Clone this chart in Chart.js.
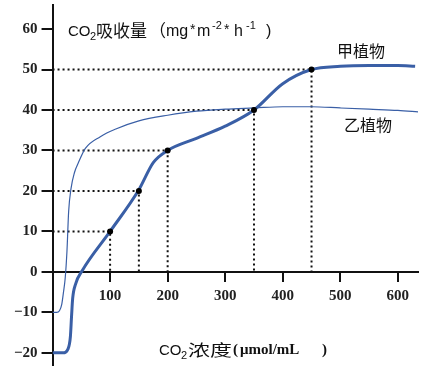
<!DOCTYPE html>
<html>
<head>
  <meta charset="utf-8">
  <title>CO2 吸收量</title>
  <script src="https://cdn.jsdelivr.net/npm/chart.js"></script>
  <style>
    html, body { margin: 0; padding: 0; background: #fff; }
    #wrap { width: 425px; height: 370px; }
  </style>
</head>
<body>
  <div id="wrap"><canvas id="chart"></canvas></div>
  <script>
    // 甲植物 (thick curve)
    const jiaX = [0, 18, 27, 31, 33, 35, 40, 52, 100, 150, 175, 200, 250, 300, 350, 400, 450, 500, 550, 600, 630];
    const jiaY = [-20, -20, -19, -16, -11, -6.5, -3, 0.4, 10, 20.3, 27, 30, 33, 36, 40, 46.5, 50, 50.8, 51, 51, 50.8];
    // 乙植物 (thin curve)
    const yiX = [0, 7, 12, 16, 19, 22, 25, 28, 32, 38, 45, 57, 83, 110, 150, 200, 250, 300, 350, 400, 450, 500, 550, 600, 637];
    const yiY = [-10, -10, -9.6, -8, -5, -1.5, 5, 15, 20.5, 24.5, 27, 30.5, 33.4, 35.3, 37.3, 38.7, 39.7, 40.2, 40.5, 40.8, 40.8, 40.5, 40.2, 39.9, 39.5];
    // marked points with dotted guides
    const markX = [100, 150, 200, 350, 450];
    const markY = [10, 20, 30, 40, 50];
    const xTicks = [100, 200, 300, 400, 500, 600];
    const yTicks = [-20, -10, 0, 10, 20, 30, 40, 50, 60];

    const lineColor = '#3a5fa6';
    const toPts = (xs, ys) => xs.map((x, i) => ({ x: x, y: ys[i] }));

    const guides = markX.map((x, i) => ({
      data: [{ x: 0, y: markY[i] }, { x: x, y: markY[i] }, { x: x, y: 0 }],
      borderColor: '#111',
      borderWidth: 2,
      borderDash: [2, 3],
      pointRadius: 0,
      tension: 0,
      order: 3
    }));

    const SANS = '"Liberation Sans", "Noto Sans CJK SC", sans-serif';
    const CJK = '"Noto Sans CJK SC", sans-serif';
    const SERIF = '"Liberation Serif", serif';

    // text pieces: [text, font, x, y, horizontal stretch]
    const yTitle = [
      ['CO', '15px ' + SANS, 68, 36],
      ['2', '11px ' + SANS, 90, 40],
      ['吸收量', '17px ' + CJK, 96, 37],
      ['（', '17px ' + CJK, 149, 37],
      ['mg', '16px ' + SANS, 166, 36],
      ['*', '14px ' + SANS, 190, 34],
      ['m', '16px ' + SANS, 197, 36],
      ['-2', '11px ' + SANS, 212, 29],
      ['*', '14px ' + SANS, 224, 34],
      ['h', '16px ' + SANS, 234, 36],
      ['-1', '11px ' + SANS, 246, 29],
      [')', '16px ' + SANS, 266, 36]
    ];
    const xTitle = [
      ['CO', '15px ' + SANS, 159, 355],
      ['2', '11px ' + SANS, 181, 359],
      ['浓度', '16px ' + CJK, 188, 356, 1.37],
      ['(', 'bold 15px ' + SERIF, 233, 354],
      ['μmol/mL', 'bold 15px ' + SERIF, 240, 354],
      [')', 'bold 15px ' + SERIF, 322, 354]
    ];

    const labelsPlugin = {
      id: 'labels',
      afterDraw(chart) {
        const ctx = chart.ctx;
        ctx.save();
        ctx.fillStyle = '#111';
        ctx.textBaseline = 'alphabetic';
        ctx.textAlign = 'left';
        yTitle.concat(xTitle).forEach(r => {
          ctx.save();
          ctx.font = r[1];
          ctx.translate(r[2], r[3]);
          ctx.scale(r[4] || 1, 1);
          ctx.fillText(r[0], 0, 0);
          ctx.restore();
        });
        ctx.font = '16px ' + CJK;
        ctx.fillText('甲植物', 337, 57);
        ctx.fillText('乙植物', 344, 131);
        ctx.restore();
      }
    };

    new Chart(document.getElementById('chart'), {
      type: 'line',
      data: {
        datasets: [
          {
            data: toPts(markX, markY),
            showLine: false,
            pointRadius: 3,
            pointBackgroundColor: '#000',
            pointBorderWidth: 0,
            order: 0
          },
          {
            data: toPts(jiaX, jiaY),
            borderColor: lineColor,
            borderWidth: 3,
            pointRadius: 0,
            cubicInterpolationMode: 'monotone',
            order: 1
          },
          {
            data: toPts(yiX, yiY),
            borderColor: lineColor,
            borderWidth: 1.2,
            pointRadius: 0,
            cubicInterpolationMode: 'monotone',
            order: 2
          },
          ...guides
        ]
      },
      options: {
        responsive: true,
        maintainAspectRatio: false,
        animation: false,
        layout: { padding: { left: 10, top: 3, right: 7, bottom: 5 } },
        plugins: { legend: { display: false }, tooltip: { enabled: false } },
        scales: {
          x: {
            type: 'linear',
            min: 0,
            max: 635,
            position: { y: 0 },
            afterBuildTicks: s => { s.ticks = xTicks.map(v => ({ value: v })); },
            grid: { drawOnChartArea: false, color: '#111', lineWidth: 2, tickLength: 9 },
            border: { color: '#111', width: 2 },
            ticks: {
              color: '#222',
              padding: 6,
              maxRotation: 0,
              font: { family: 'Liberation Serif', weight: 'bold', size: 15 }
            }
          },
          y: {
            type: 'linear',
            min: -23,
            max: 66,
            position: 'left',
            afterBuildTicks: s => { s.ticks = yTicks.map(v => ({ value: v })); },
            grid: { drawOnChartArea: false, color: '#111', lineWidth: 2, tickLength: 11 },
            border: { color: '#111', width: 2 },
            ticks: {
              color: '#222',
              padding: 4,
              font: { family: 'Liberation Serif', weight: 'bold', size: 15, lineHeight: 0.1 },
              callback: v => v < 0 ? '−' + Math.abs(v) : String(v)
            }
          }
        }
      },
      plugins: [labelsPlugin]
    });
  </script>
</body>
</html>
